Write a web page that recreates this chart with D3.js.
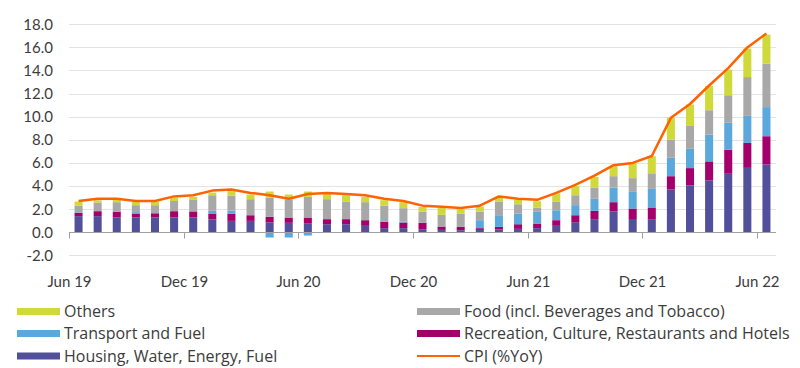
<!DOCTYPE html>
<html lang='en'>
	<head>
		<meta charset='utf-8'>
		<title>CPI contributions</title>
		<script type='text/javascript' src='https://cdn.jsdelivr.net/npm/d3@7/dist/d3.min.js'></script>
		<style>
			body { margin: 0; background: #fff; }
			svg text { font-family: Lato, 'Noto Sans', sans-serif; fill: #3c3c3c; }
			g.legend text { font-family: 'Open Sans', Lato, sans-serif; }
			g.grid line { stroke: #e3e3e3; stroke-width: 1px; }
		</style>
	</head>
	<body>
		<script type='text/javascript'>
			var width = 800;
			var height = 368;

			var months = ['Jun 19','Jul 19','Aug 19','Sep 19','Oct 19','Nov 19','Dec 19',
				'Jan 20','Feb 20','Mar 20','Apr 20','May 20','Jun 20','Jul 20','Aug 20','Sep 20','Oct 20','Nov 20','Dec 20',
				'Jan 21','Feb 21','Mar 21','Apr 21','May 21','Jun 21','Jul 21','Aug 21','Sep 21','Oct 21','Nov 21','Dec 21',
				'Jan 22','Feb 22','Mar 22','Apr 22','May 22','Jun 22'];

			var housing   = [1.39,1.39,1.28,1.28,1.28,1.28,1.28,1.10,0.98,0.98,0.84,0.81,0.78,0.69,0.69,0.55,0.35,0.35,0.26,
				0.20,0.17,0.20,0.23,0.29,0.35,0.55,0.87,1.13,1.79,1.07,1.13,3.69,4.05,4.48,5.12,5.57,5.86];
			var recreation = [0.28,0.43,0.50,0.34,0.36,0.54,0.52,0.52,0.61,0.49,0.49,0.46,0.49,0.44,0.44,0.49,0.55,0.49,0.55,
				0.29,0.29,0.15,0.23,0.40,0.40,0.49,0.60,0.72,0.81,0.98,1.01,1.16,1.50,1.65,2.02,2.16,2.45];
			var transport = [0,0,0,0.12,0,0,0,0.23,0.29,0,-0.46,-0.46,-0.29,0,0,0,0.05,0.10,0,
				0,0,0.69,1.01,0.93,1.01,0.86,0.87,1.04,1.27,1.44,1.61,1.59,1.67,2.31,2.33,2.34,2.52];
			var food      = [0.61,0.75,0.82,0.60,0.70,0.88,1.04,1.35,1.29,1.39,1.67,1.56,1.79,1.73,1.53,1.56,1.33,1.14,0.98,
				1.01,1.13,0.75,1.16,0.80,0.38,0.73,0.86,0.98,0.98,1.19,1.35,1.58,1.98,2.12,2.39,3.36,3.77];
			var others    = [0.37,0.20,0.22,0.28,0.29,0.26,0.22,0.23,0.38,0.40,0.52,0.43,0.46,0.54,0.54,0.46,0.49,0.52,0.40,
				0.60,0.40,0.43,0.37,0.41,0.54,0.72,0.80,0.92,0.86,1.27,1.48,1.91,1.85,2.10,2.22,2.47,2.50];
			var cpi       = [2.7,2.9,2.9,2.7,2.7,3.1,3.2,3.6,3.7,3.4,3.2,2.9,3.3,3.4,3.3,3.2,2.9,2.7,2.3,
				2.2,2.1,2.3,3.1,2.9,2.8,3.4,4.1,4.9,5.8,6.0,6.6,9.9,11.1,12.7,14.2,16.0,17.2];

			var yTicks = [-2,0,2,4,6,8,10,12,14,16,18];
			var xLabels = ['Jun 19','Dec 19','Jun 20','Dec 20','Jun 21','Dec 21','Jun 22'];

			var series = [
				{ key: 'housing',    name: 'Housing, Water, Energy, Fuel',               color: '#524f9b', values: housing },
				{ key: 'recreation', name: 'Recreation, Culture, Restaurants and Hotels', color: '#a3006b', values: recreation },
				{ key: 'transport',  name: 'Transport and Fuel',                          color: '#5ba8dc', values: transport },
				{ key: 'food',       name: 'Food (incl. Beverages and Tobacco)',          color: '#a8a8a8', values: food },
				{ key: 'others',     name: 'Others',                                      color: '#d0d93a', values: others }
			];
			var cpiColor = '#ff6200';

			// table for d3.stack
			var rows = months.map(function(m, i) {
				var r = { month: m };
				series.forEach(function(s) { r[s.key] = s.values[i]; });
				return r;
			});

			var x = d3.scaleBand().domain(months).range([69, 776])
				.paddingInner(0.58).paddingOuter(0.29);
			var y = d3.scaleLinear().domain([-2, 18]).range([255.3, 24.3]);

			var svg = d3.select('body').append('svg')
				.attr('width', width)
				.attr('height', height);

			// gridlines
			svg.append('g').attr('class', 'grid')
				.selectAll('line')
				.data(yTicks.filter(function(d) { return d !== 0; }))
				.enter().append('line')
					.attr('x1', 69).attr('x2', 776)
					.attr('y1', function(d) { return Math.round(y(d)) + 0.5; })
					.attr('y2', function(d) { return Math.round(y(d)) + 0.5; });

			// y labels
			svg.append('g')
				.selectAll('text')
				.data(yTicks)
				.enter().append('text')
					.attr('x', 53)
					.attr('y', function(d) { return y(d); })
					.attr('dy', '0.36em')
					.attr('text-anchor', 'end')
					.style('font-size', '15px')
					.text(function(d) { return d.toFixed(1); });

			// stacked bars
			var stack = d3.stack()
				.keys(series.map(function(s) { return s.key; }))
				.offset(d3.stackOffsetDiverging);

			var layers = stack(rows);

			svg.append('g').attr('class', 'bars')
				.selectAll('g')
				.data(layers)
				.enter().append('g')
					.attr('fill', function(d, i) { return series[i].color; })
				.selectAll('rect')
				.data(function(d) { return d; })
				.enter().append('rect')
					.attr('x', function(d) { return x(d.data.month); })
					.attr('width', x.bandwidth())
					.attr('y', function(d) { return y(Math.max(d[0], d[1])); })
					.attr('height', function(d) { return Math.abs(y(d[0]) - y(d[1])); });

			// zero axis + ticks
			var y0 = Math.round(y(0)) + 0.5;
			svg.append('line')
				.attr('x1', 69).attr('x2', 776)
				.attr('y1', y0).attr('y2', y0)
				.attr('stroke', '#a0a0a0').attr('stroke-width', 1);

			function tickX(m) {
				return Math.round(x(m) + x.bandwidth() / 2 - x.step() / 2) + 0.5;
			}

			svg.append('g')
				.selectAll('line')
				.data(xLabels)
				.enter().append('line')
					.attr('x1', tickX).attr('x2', tickX)
					.attr('y1', y0).attr('y2', y0 + 6)
					.attr('stroke', '#a0a0a0');

			svg.append('g')
				.selectAll('text')
				.data(xLabels)
				.enter().append('text')
					.attr('x', tickX)
					.attr('y', 287)
					.attr('text-anchor', 'middle')
					.style('font-size', '15px')
					.text(function(d) { return d; });

			// CPI line
			var line = d3.line()
				.x(function(d, i) { return x(months[i]) + x.bandwidth() / 2; })
				.y(function(d) { return y(d); });

			svg.append('path')
				.datum(cpi)
				.attr('d', line)
				.attr('fill', 'none')
				.attr('stroke', cpiColor)
				.attr('stroke-width', 2.5)
				.attr('stroke-linejoin', 'round');

			// legend
			var legendItems = [
				{ name: 'Others', color: '#d0d93a', col: 0, row: 0 },
				{ name: 'Food (incl. Beverages and Tobacco)', color: '#a8a8a8', col: 1, row: 0 },
				{ name: 'Transport and Fuel', color: '#5ba8dc', col: 0, row: 1 },
				{ name: 'Recreation, Culture, Restaurants and Hotels', color: '#a3006b', col: 1, row: 1 },
				{ name: 'Housing, Water, Energy, Fuel', color: '#524f9b', col: 0, row: 2 },
				{ name: 'CPI (%YoY)', color: cpiColor, col: 1, row: 2, isLine: true }
			];
			var colX = [17, 417];
			var rowY = [311.5, 333.5, 356];

			var lg = svg.append('g').attr('class', 'legend')
				.selectAll('g')
				.data(legendItems)
				.enter().append('g')
					.attr('transform', function(d) { return 'translate(' + colX[d.col] + ',' + rowY[d.row] + ')'; });

			lg.append('rect')
				.attr('x', 0)
				.attr('y', function(d) { return d.isLine ? -1 : -3.5; })
				.attr('width', 43)
				.attr('height', function(d) { return d.isLine ? 2 : 7; })
				.attr('fill', function(d) { return d.color; });

			lg.append('text')
				.attr('x', 47)
				.attr('dy', '0.36em')
				.style('font-size', '16px')
				.text(function(d) { return d.name; });
		</script>
	</body>
</html>
